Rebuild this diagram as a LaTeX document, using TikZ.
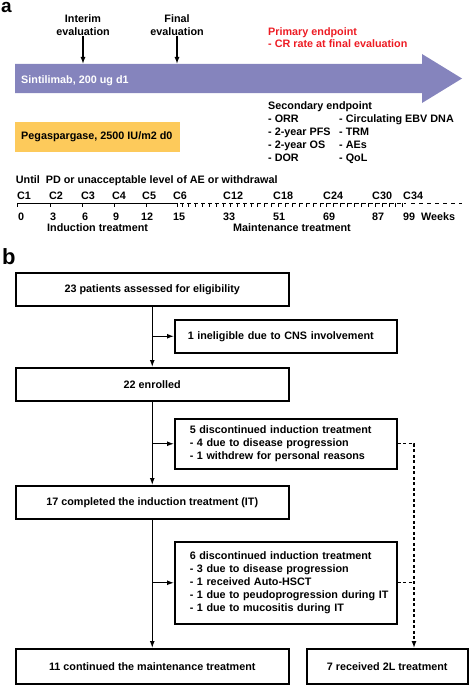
\documentclass[tikz,border=0pt]{standalone}
\usepackage{fontspec}
\setmainfont{Liberation Sans}
\usetikzlibrary{arrows.meta}
\definecolor{purp}{HTML}{8584BD}
\definecolor{yell}{HTML}{FDCA5B}
\definecolor{redt}{HTML}{ED1C24}
\begin{document}
\begin{tikzpicture}[x=1pt,y=-1pt,
  every node/.style={font=\fontsize{10.8}{13}\selectfont\bfseries},
  txt/.style={anchor=base west, inner sep=0pt},
  fbox/.style={draw, line width=1.5pt, inner sep=0pt, anchor=north west, align=center},
  lbox/.style={draw, line width=1.5pt, inner xsep=15pt, inner ysep=0pt, anchor=north west, align=left},
  conn/.style={line width=1.3pt, -{Latex[length=7pt,width=5pt]}},
  dconn/.style={line width=1.3pt, dash pattern=on 3pt off 2.5pt},
  tl/.style={line width=1pt},
]
\useasboundingbox (0,0) rectangle (469,685);

% ---------- panel a ----------
\node[anchor=base west, inner sep=0pt, font=\fontsize{19}{19}\selectfont\bfseries] (la) at (1,13) {a};

\fill[purp] (15,64) -- (422,64) -- (422,54) -- (462,78.5) -- (422,103) -- (422,93) -- (15,93) -- cycle;
\node[txt, text=white] (sint) at (21,83) {Sintilimab, 200 ug d1};
\coordinate (atop) at (0,64);

\node[anchor=north, inner sep=0pt, align=center] (int) at (83,14) {Interim\\evaluation};
\node[anchor=north, inner sep=0pt, align=center] (fin) at (177,14) {Final\\evaluation};
\draw[conn] ([yshift=-1pt]int.south) -- (int.south |- atop);
\draw[conn] ([yshift=-1pt]fin.south) -- (fin.south |- atop);

\node[txt, text=redt] (pe1) at (268,35.4) {Primary endpoint};
\node[txt, text=redt] (pe2) at (268,48) {- CR rate at final evaluation};

\node[fill=yell, anchor=north west, minimum width=165pt, minimum height=30pt, inner xsep=6pt, inner ysep=0pt] (peg) at (15,122) {\makebox[153pt][l]{Pegaspargase, 2500 IU/m2 d0}};

\node[txt] (se) at (268,109.5) {Secondary endpoint};
\node[txt] (s1) at (268,122) {- ORR};
\node[txt] (s2) at (268,135) {- 2-year PFS};
\node[txt] (s3) at (268,148) {- 2-year OS};
\node[txt] (s4) at (268,161) {- DOR};
\node[txt] (s5) at (339,122) {- Circulating EBV DNA};
\node[txt] (s6) at (339,135) {- TRM};
\node[txt] (s7) at (339,148) {- AEs};
\node[txt] (s8) at (339,161) {- QoL};

\node[txt] (until) at (15.7,183) {Until\ \ PD or unacceptable level of AE or withdrawal};

% timeline
\draw[tl] (17,203) -- (177,203);
\foreach \x in {17,50,82,114,146,177} \draw[tl] (\x,203) -- ++(0,3.5);
\draw[tl, dash pattern=on 4pt off 3pt] (180,203) -- (406,203);
\foreach \i in {0,...,32} \draw[tl] ({182+\i*6.9},203) -- ++(0,3.5);
\draw[tl, dash pattern=on 4pt off 4pt] (411,203) -- (462,203);

\foreach \x/\t in {17/C1,49/C2,81/C3,112/C4,142/C5,173/C6,223/C12,273/C18,323/C24,372/C30,403/C34}
  \node[txt] at (\x,199) {\t};
\foreach \x/\t in {18/0,50/3,82/6,113/9,141/12,173/15,223/33,273/51,323/69,372/87,403/99,421/Weeks}
  \node[txt] at (\x,220) {\t};
\node[txt] (ind) at (47,231.5) {Induction treatment};
\node[txt] (mnt) at (233,231.5) {Maintenance treatment};

% ---------- panel b ----------
\node[anchor=base west, inner sep=0pt, font=\fontsize{22}{22}\selectfont\bfseries] (lb) at (2,264) {b};

\node[fbox, minimum width=273pt, minimum height=33pt] (b1) at (15,272) {23 patients assessed for eligibility};
\node[lbox, inner xsep=13pt, text width=196pt, minimum height=33pt] (b2) at (174,319) {1 ineligible due to CNS involvement};
\node[fbox, minimum width=273pt, minimum height=33pt] (b3) at (15,367) {22 enrolled};
\node[lbox, text width=192pt, minimum height=50pt] (b4) at (174,418) {5 discontinued induction treatment\\- 4 due to disease progression\\- 1 withdrew for personal reasons};
\node[fbox, minimum width=273pt, minimum height=33pt] (b5) at (15,485) {17 completed the induction treatment (IT)};
\node[lbox, text width=192pt, minimum height=82pt] (b6) at (174,541) {6 discontinued induction treatment\\- 3 due to disease progression\\- 1 received Auto-HSCT\\\mbox{- 1 due to peudoprogression during IT}\\- 1 due to mucositis during IT};
\node[fbox, minimum width=273pt, minimum height=35pt] (b8) at (15,648) {11 continued the maintenance treatment};
\node[fbox, minimum width=161pt, minimum height=35pt] (b7) at (306,648) {7 received 2L treatment};

\draw[conn] (b1.south) -- (b3.north);
\draw[conn] (b1.south |- b2.west) -- (b2.west);
\draw[conn] (b3.south) -- (b5.north);
\draw[conn] (b3.south |- b4.west) -- (b4.west);
\draw[conn] (b5.south) -- (b8.north);
\draw[conn] (b5.south |- b6.west) -- (b6.west);

\coordinate (dx) at (414,0);
\draw[dconn] (b6.east) -- (b6.east -| dx);
\draw[dconn, -{Latex[length=7pt,width=5pt]}] (b4.east) -- (b4.east -| dx) -- (b7.north -| dx);
\end{tikzpicture}
\end{document}
